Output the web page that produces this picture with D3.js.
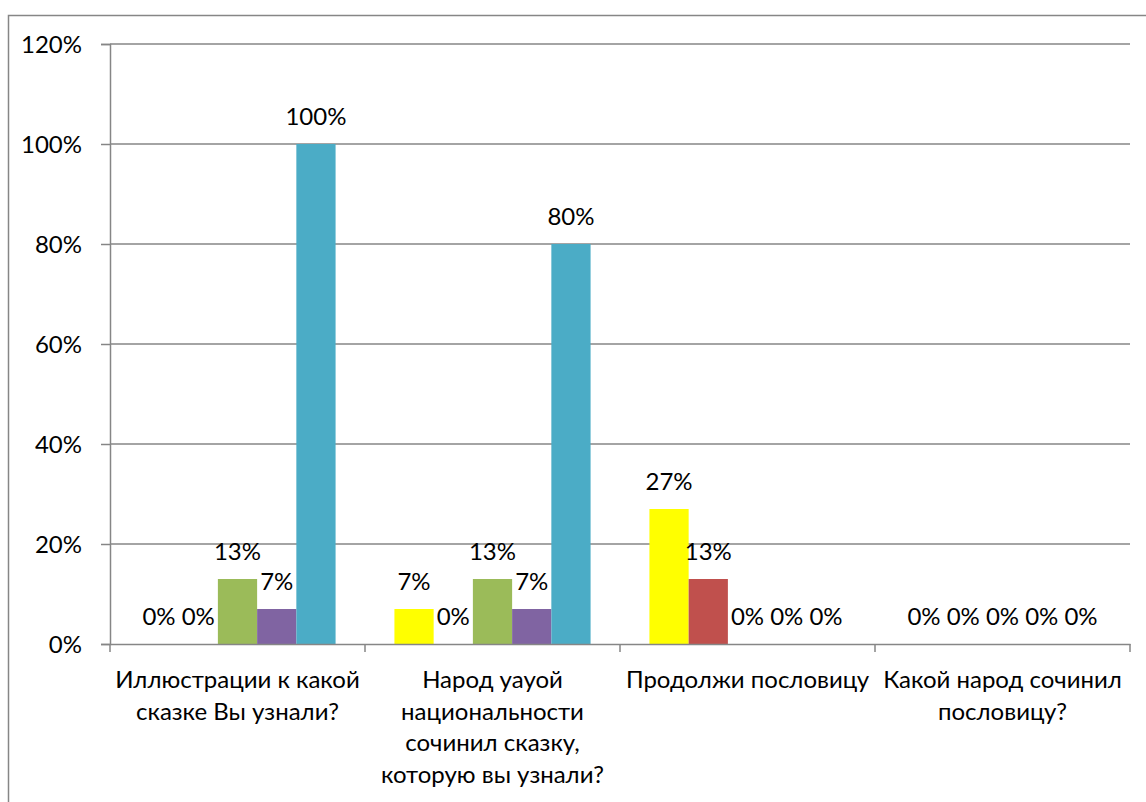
<!DOCTYPE html>
<html><head><meta charset="utf-8">
<script src="https://cdn.jsdelivr.net/npm/d3@7"></script>
<style>html,body{margin:0;padding:0;background:#fff;}svg{display:block;}</style>
</head><body>
<script>
const categories = [
  ["Иллюстрации к какой", "сказке Вы узнали?"],
  ["Народ уауой", "национальности", "сочинил сказку,", "которую вы узнали?"],
  ["Продолжи пословицу"],
  ["Какой народ сочинил", "пословицу?"]
];
const seriesNames = ["s1", "s2", "s3", "s4", "s5"];
const seriesColors = ["#FFFF00", "#C0504D", "#9BBB59", "#8064A2", "#4BACC6"];
const s1 = [0, 7, 27, 0];
const s2 = [0, 0, 13, 0];
const s3 = [13, 13, 0, 0];
const s4 = [7, 7, 0, 0];
const s5 = [100, 80, 0, 0];
const seriesValues = [s1, s2, s3, s4, s5];
const yTicks = [0, 20, 40, 60, 80, 100, 120];

(function () {
const W = 1146, H = 802;
const FONT = "Lato, 'Liberation Sans', Arial, sans-serif";
const FS = 24;
const svg = d3.select("body").append("svg").attr("width", W).attr("height", H);

svg.append("rect").attr("x", 8.5).attr("y", 15.5).attr("width", W + 20).attr("height", H + 20)
  .attr("fill", "#fff").attr("stroke", "#868686").attr("stroke-width", 1.5);

const pLeft = 110, pRight = 1130, pTop = 44, pBottom = 644;
const catIdx = categories.map((d, i) => i);
const x0 = d3.scaleBand().domain(catIdx).range([pLeft, pRight]);
const bw = x0.bandwidth();
const barW = bw / 6.5; // Excel gap width 150%
const x1 = d3.scaleBand().domain(seriesNames).range([barW * 0.75, bw - barW * 0.75]);
const y = d3.scaleLinear().domain([0, 120]).range([pBottom, pTop]);

// gridlines
svg.append("g").selectAll("line").data(yTicks.filter(t => t > 0)).join("line")
  .attr("x1", pLeft).attr("x2", pRight).attr("y1", d => y(d)).attr("y2", d => y(d))
  .attr("stroke", "#868686").attr("stroke-width", 1.5);

// y axis
const yAxis = d3.axisLeft(y).tickValues(yTicks).tickFormat(d => d + "%").tickSize(9).tickPadding(19);
const gy = svg.append("g").attr("transform", `translate(${pLeft},0)`).call(yAxis);
gy.select(".domain").attr("stroke", "#868686").attr("stroke-width", 1.5);
gy.selectAll(".tick line").attr("stroke", "#868686").attr("stroke-width", 1.5);
gy.selectAll(".tick text").attr("font-family", FONT).attr("font-size", FS).attr("fill", "#000").attr("dy", "0.34em");

// bars
const gBars = svg.append("g");
seriesNames.forEach((s, si) => {
  gBars.append("g").selectAll("rect").data(seriesValues[si]).join("rect")
    .attr("x", (d, i) => x0(i) + x1(s))
    .attr("width", x1.bandwidth())
    .attr("y", d => y(d))
    .attr("height", d => y(0) - y(d))
    .attr("fill", seriesColors[si]);
});

// x axis
const xAxis = d3.axisBottom(x0).tickSize(0).tickFormat("");
const gx = svg.append("g").attr("transform", `translate(0,${pBottom})`).call(xAxis);
gx.select(".domain").attr("stroke", "#868686").attr("stroke-width", 1.5);
svg.append("g").selectAll("line").data(d3.range(categories.length + 1)).join("line")
  .attr("x1", d => pLeft + d * bw).attr("x2", d => pLeft + d * bw)
  .attr("y1", pBottom).attr("y2", pBottom + 8)
  .attr("stroke", "#868686").attr("stroke-width", 1.5);

// category labels
categories.forEach((lines, i) => {
  const t = svg.append("text").attr("font-family", FONT).attr("font-size", FS).attr("fill", "#000")
    .attr("text-anchor", "middle");
  lines.forEach((ln, j) => {
    t.append("tspan").attr("x", x0(i) + bw / 2).attr("y", 688 + j * 31.7).text(ln);
  });
});

// data labels
seriesNames.forEach((s, si) => {
  svg.append("g").selectAll("text").data(seriesValues[si]).join("text")
    .attr("x", (d, i) => x0(i) + x1(s) + x1.bandwidth() / 2)
    .attr("y", d => y(d) - 19)
    .attr("text-anchor", "middle")
    .attr("font-family", FONT).attr("font-size", FS).attr("fill", "#000")
    .text(d => d + "%");
});
})();
</script>
</body></html>
